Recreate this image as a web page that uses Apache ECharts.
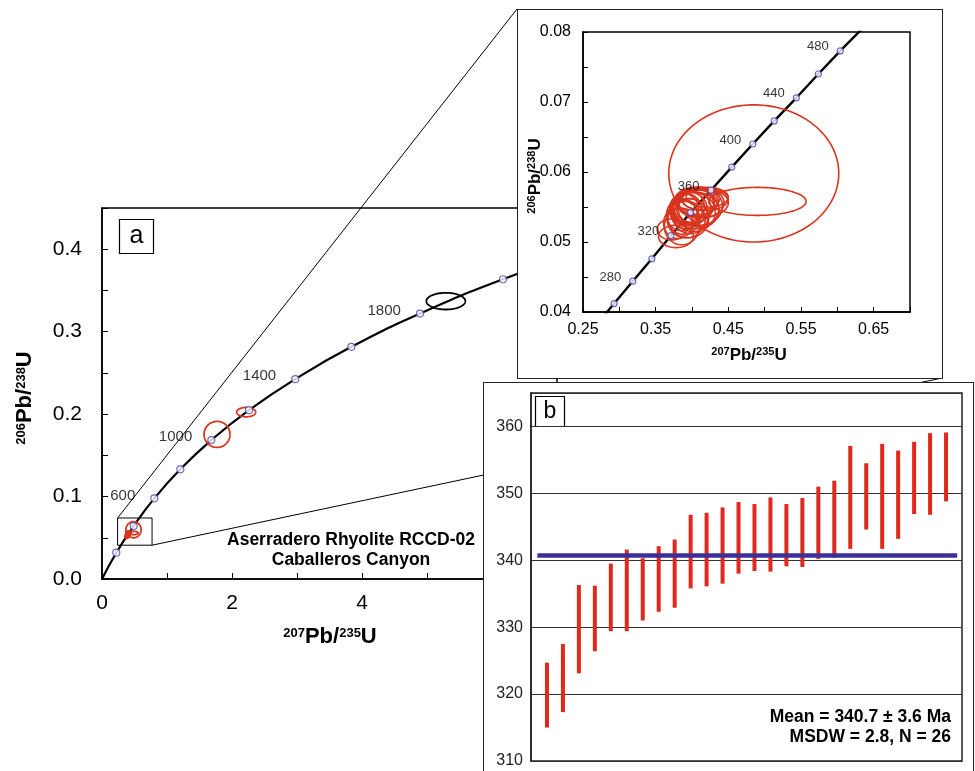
<!DOCTYPE html>
<html>
<head>
<meta charset="utf-8">
<script src="https://cdn.jsdelivr.net/npm/echarts@6/dist/echarts.min.js"></script>
<style>
html,body{margin:0;padding:0;overflow:hidden;background:#fff;}
#main{position:absolute;left:0;top:0;width:975px;height:771px;}
#inset{position:absolute;left:517px;top:9px;width:424px;height:368px;border:1px solid #222;background:#fff;}
#wm{position:absolute;left:483px;top:382px;width:489px;height:400px;border:1px solid #222;background:#fff;}
</style>
</head>
<body>
<div id="main"></div>
<div id="inset"></div>
<div id="wm"></div>
<script>
var FONT = 'Liberation Sans, Arial, Helvetica, sans-serif';

// 主图谐和线 (年龄 Ma, 207Pb/235U, 206Pb/238U) — 从图上读出
var mainAges = [0, 200, 400, 600, 800, 1000, 1200, 1400, 1600, 1800, 2000, 2200];
var mainX = [0, 0.22, 0.487, 0.805, 1.205, 1.682, 2.262, 2.974, 3.836, 4.892, 6.169, 7.73];
var mainY = [0, 0.0319, 0.0642, 0.0978, 0.133, 0.1685, 0.2048, 0.2424, 0.2816, 0.322, 0.3636, 0.4067];
var mainLabelAges = [600, 1000, 1400, 1800];

// 放大图谐和线
var insetAges = [250, 260, 280, 300, 320, 340, 360, 380, 400, 420, 440, 460, 480, 500];
var insetX = [0.2792, 0.2928, 0.3185, 0.3447, 0.3709, 0.398, 0.4261, 0.4547, 0.4837, 0.5132, 0.5436, 0.5739, 0.604, 0.6363];
var insetY = [0.0395, 0.0412, 0.0444, 0.0476, 0.0509, 0.0542, 0.0574, 0.0607, 0.0640, 0.0673, 0.0706, 0.0740, 0.0773, 0.0807];
var insetLabelAges = [280, 320, 360, 400, 440, 480];

// 误差椭圆 [cx, cy, rx, ry]
var clusterEll = [
  [0.378, 0.0508, 0.024, 0.0016], [0.372, 0.0518, 0.020, 0.0015], [0.386, 0.0522, 0.024, 0.0026],
  [0.381, 0.0527, 0.020, 0.0022], [0.392, 0.0532, 0.026, 0.0026], [0.395, 0.0534, 0.028, 0.0028],
  [0.388, 0.0535, 0.022, 0.0024], [0.398, 0.0537, 0.024, 0.0025], [0.386, 0.0539, 0.021, 0.0023],
  [0.402, 0.0543, 0.030, 0.0028], [0.392, 0.0544, 0.022, 0.0025], [0.405, 0.0545, 0.032, 0.0026],
  [0.397, 0.0547, 0.024, 0.0024], [0.389, 0.0547, 0.020, 0.0022], [0.409, 0.0548, 0.028, 0.0026],
  [0.400, 0.0549, 0.026, 0.0023], [0.395, 0.0550, 0.022, 0.0024], [0.410, 0.0551, 0.032, 0.0027],
  [0.402, 0.0553, 0.028, 0.0025], [0.412, 0.0556, 0.032, 0.0022], [0.405, 0.0557, 0.026, 0.0021],
  [0.416, 0.0556, 0.034, 0.0020], [0.408, 0.0558, 0.028, 0.0019], [0.418, 0.0561, 0.032, 0.0016],
  [0.412, 0.0562, 0.026, 0.0016], [0.421, 0.0564, 0.029, 0.0014]
];
var wideEll = [[0.485, 0.0598, 0.117, 0.0098], [0.49, 0.0558, 0.067, 0.0020]];
var oldRedEll = [[1.77, 0.1754, 0.20, 0.0158], [2.218, 0.2024, 0.146, 0.0057]];
var blackEll = [[5.29, 0.337, 0.30, 0.0101]];
var zoomBox = [[0.24, 0.074], [0.77, 0.041]];

// 加权平均图 (Ma)
var grainHigh = [324.7, 327.5, 336.3, 336.2, 339.5, 341.6, 340.3, 342.1, 343.1, 346.8, 347.1, 347.9, 348.7, 348.4, 349.4, 348.4, 349.3, 351.0, 351.9, 357.1, 354.5, 357.4, 356.4, 357.7, 359.0, 359.1];
var grainLow = [315.0, 317.3, 323.1, 326.4, 329.4, 329.4, 331.0, 332.3, 332.9, 335.8, 336.1, 336.5, 338.0, 338.4, 338.3, 339.1, 339.0, 340.2, 340.4, 341.7, 344.6, 341.7, 343.2, 346.9, 346.8, 348.8];
var meanAge = 340.7;
var meanLineX = [0.4, 26.7];

var RED = '#d8351f';
var MARK = '#4a44b4';

function pairs(xs, ys){
	var out = [];
	for (var i = 0; i < xs.length; i++) out.push([xs[i], ys[i]]);
	return out;
}

function ellipseRender(lineWidth){
	return function(params, api){
		var cx = api.value(0), cy = api.value(1), rx = api.value(2), ry = api.value(3);
		var pts = [];
		for (var k = 0; k <= 90; k++) {
			var a = k / 90 * Math.PI * 2;
			pts.push(api.coord([cx + rx * Math.cos(a), cy + ry * Math.sin(a)]));
		}
		return {type: 'polyline', shape: {points: pts}, style: {fill: null, stroke: api.visual('color'), lineWidth: lineWidth}};
	};
}

function ellSeries(data, color, lw, z){
	return {type: 'custom', data: data, clip: true, z: z, renderItem: ellipseRender(lw),
		itemStyle: {color: color}, encode: {x: 0, y: 1}, silent: true};
}

function markerData(ages, xs, ys, labelAges, from, to){
	var out = [];
	for (var i = 0; i < ages.length; i++) {
		if (ages[i] < from || ages[i] > to) continue;
		out.push({value: [xs[i], ys[i]], label: {show: labelAges.indexOf(ages[i]) >= 0, formatter: String(ages[i])}});
	}
	return out;
}

function titleRich(big, small, sup){
	return {
		b: {fontSize: big, fontWeight: 'bold', fontFamily: FONT, fill: '#000', verticalAlign: 'bottom'},
		s: {fontSize: small, fontWeight: 'bold', fontFamily: FONT, fill: '#000', verticalAlign: 'bottom', padding: [0, 0, sup, 0]}
	};
}

/*===================== 主图 a =====================*/
var mainChart = echarts.init(document.getElementById('main'));
var axisBlack = {color: '#000', width: 1.5};
mainChart.setOption({
	animation: false,
	grid: {left: 102, top: 208, width: 455, height: 371, show: true, borderColor: '#000', borderWidth: 1.5},
	xAxis: {
		type: 'value', min: 0, max: 7, interval: 1,
		axisLine: {lineStyle: axisBlack},
		axisTick: {inside: true, length: 6, lineStyle: {color: '#000'}},
		axisLabel: {margin: 14, fontSize: 21, color: '#000', fontFamily: FONT,
			formatter: function(v){ return v % 2 === 0 ? String(v) : ''; }},
		splitLine: {show: false}
	},
	yAxis: {
		type: 'value', min: 0, max: 0.45, interval: 0.05,
		axisLine: {lineStyle: axisBlack},
		axisTick: {inside: true, length: 6, lineStyle: {color: '#000'}},
		axisLabel: {margin: 20, fontSize: 21, color: '#000', fontFamily: FONT,
			formatter: function(v){ var k = Math.round(v * 100); return k % 10 === 0 ? (k / 100).toFixed(1) : ''; }},
		splitLine: {show: false}
	},
	series: [
		{type: 'line', data: pairs(mainX, mainY), smooth: true, showSymbol: false, silent: true,
			lineStyle: {color: '#000', width: 2.2}, z: 2},
		ellSeries(clusterEll.concat(wideEll).concat(oldRedEll), RED, 1.8, 3),
		ellSeries(blackEll, '#000', 1.8, 3),
		{type: 'scatter', data: markerData(mainAges, mainX, mainY, mainLabelAges, 200, 2000), z: 4,
			symbol: 'circle', symbolSize: 7, itemStyle: {color: '#fff', borderColor: MARK, borderWidth: 1.2},
			label: {position: 'left', distance: 15, offset: [0, -3], fontSize: 15, color: '#000', fontFamily: FONT}}
	]
});

var boxTL = mainChart.convertToPixel({gridIndex: 0}, zoomBox[0]);
var boxBR = mainChart.convertToPixel({gridIndex: 0}, zoomBox[1]);
mainChart.setOption({
	graphic: [
		{type: 'rect', shape: {x: boxTL[0], y: boxTL[1], width: boxBR[0] - boxTL[0], height: boxBR[1] - boxTL[1]},
			style: {fill: null, stroke: '#000', lineWidth: 1}, z: 10},
		{type: 'line', shape: {x1: boxTL[0], y1: boxTL[1], x2: 517, y2: 9}, style: {stroke: '#000', lineWidth: 1}, z: 10},
		{type: 'line', shape: {x1: boxBR[0], y1: boxBR[1], x2: 942, y2: 378}, style: {stroke: '#000', lineWidth: 1}, z: 10},
		{type: 'rect', shape: {x: 119.5, y: 219.5, width: 34, height: 34}, style: {fill: '#fff', stroke: '#000', lineWidth: 1.2}, z: 10},
		{type: 'text', x: 136.5, y: 236, z: 11, style: {text: 'a', fontSize: 25, fontFamily: FONT, fill: '#000', align: 'center', verticalAlign: 'middle'}},
		{type: 'text', x: 351, y: 540, z: 11, style: {text: 'Aserradero Rhyolite RCCD-02', fontSize: 17.5, fontWeight: 'bold', fontFamily: FONT, fill: '#000', align: 'center', verticalAlign: 'middle'}},
		{type: 'text', x: 351, y: 560, z: 11, style: {text: 'Caballeros Canyon', fontSize: 17.5, fontWeight: 'bold', fontFamily: FONT, fill: '#000', align: 'center', verticalAlign: 'middle'}},
		{type: 'text', x: 330, y: 637, z: 11, style: {text: '{s|207}{b|Pb/}{s|235}{b|U}', rich: titleRich(22, 13, 8), align: 'center', verticalAlign: 'middle'}},
		{type: 'text', x: 25, y: 398, rotation: Math.PI / 2, z: 11, style: {text: '{s|206}{b|Pb/}{s|238}{b|U}', rich: titleRich(22, 13, 8), align: 'center', verticalAlign: 'middle'}}
	]
});

/*===================== 放大图 =====================*/
var insetChart = echarts.init(document.getElementById('inset'));
insetChart.setOption({
	animation: false,
	grid: {left: 65, top: 22, width: 327, height: 280, show: true, borderColor: '#000', borderWidth: 1.5},
	xAxis: {
		type: 'value', min: 0.25, max: 0.70, interval: 0.05,
		axisLine: {lineStyle: axisBlack},
		axisTick: {inside: true, length: 5, lineStyle: {color: '#000'}},
		axisLabel: {margin: 10, fontSize: 16, color: '#000', fontFamily: FONT,
			formatter: function(v){ var k = Math.round(v * 100); return k % 10 === 5 ? (k / 100).toFixed(2) : ''; }},
		splitLine: {show: false}
	},
	yAxis: {
		type: 'value', min: 0.04, max: 0.08, interval: 0.005,
		axisLine: {lineStyle: axisBlack},
		axisTick: {inside: true, length: 5, lineStyle: {color: '#000'}},
		axisLabel: {margin: 12, fontSize: 16, color: '#000', fontFamily: FONT,
			formatter: function(v){ var k = Math.round(v * 1000); return k % 10 === 0 ? (k / 1000).toFixed(2) : ''; }},
		splitLine: {show: false}
	},
	series: [
		{type: 'line', data: pairs(insetX, insetY), showSymbol: false, silent: true,
			lineStyle: {color: '#000', width: 2.4}, z: 2},
		ellSeries(clusterEll.concat(wideEll), RED, 1.6, 3),
		{type: 'scatter', data: markerData(insetAges, insetX, insetY, insetLabelAges, 260, 480), z: 4,
			symbol: 'circle', symbolSize: 6, itemStyle: {color: '#fff', borderColor: MARK, borderWidth: 1.2},
			label: {position: 'left', distance: 8, offset: [0, -4], fontSize: 13, color: '#000', fontFamily: FONT}}
	],
	graphic: [
		{type: 'text', x: 231, y: 345, style: {text: '{s|207}{b|Pb/}{s|235}{b|U}', rich: titleRich(17, 11, 6), align: 'center', verticalAlign: 'middle'}},
		{type: 'text', x: 17, y: 166, rotation: Math.PI / 2, style: {text: '{s|206}{b|Pb/}{s|238}{b|U}', rich: titleRich(17, 11, 6), align: 'center', verticalAlign: 'middle'}}
	]
});

/*===================== 加权平均图 b =====================*/
var wmChart = echarts.init(document.getElementById('wm'));
var barData = [];
for (var i = 0; i < grainHigh.length; i++) barData.push([i + 1, grainLow[i], grainHigh[i]]);
wmChart.setOption({
	animation: false,
	grid: {left: 47, top: 10, width: 431, height: 368, show: true, borderColor: '#222', borderWidth: 1.5},
	xAxis: {type: 'value', min: 0, max: 27, show: false},
	yAxis: {
		type: 'value', min: 310, max: 365, interval: 10,
		axisLine: {lineStyle: {color: '#222', width: 1.5}},
		axisTick: {show: false},
		axisLabel: {margin: 8, fontSize: 16, color: '#222', fontFamily: FONT, showMaxLabel: false},
		splitLine: {show: true, lineStyle: {color: '#333', width: 1.2}}
	},
	series: [
		{type: 'custom', data: barData, z: 2, encode: {x: 0, y: [1, 2]},
			renderItem: function(params, api){
				var top = api.coord([api.value(0), api.value(2)]);
				var bot = api.coord([api.value(0), api.value(1)]);
				return {type: 'rect', shape: {x: top[0] - 2, y: top[1], width: 4, height: bot[1] - top[1]}, style: {fill: '#e0291c'}};
			}},
		{type: 'line', data: [[meanLineX[0], meanAge], [meanLineX[1], meanAge]], showSymbol: false, z: 3,
			lineStyle: {color: '#3d2f99', width: 4.5}}
	],
	graphic: [
		{type: 'rect', shape: {x: 51.5, y: 13.5, width: 29, height: 30}, style: {fill: '#fff', stroke: '#000', lineWidth: 1.2}},
		{type: 'text', x: 66, y: 29, style: {text: 'b', fontSize: 23, fontFamily: FONT, fill: '#000', align: 'center', verticalAlign: 'middle'}},
		{type: 'text', x: 467, y: 334, style: {text: 'Mean = 340.7 \u00b1 3.6 Ma', fontSize: 17.5, fontWeight: 'bold', fontFamily: FONT, fill: '#000', align: 'right', verticalAlign: 'middle'}},
		{type: 'text', x: 467, y: 354, style: {text: 'MSDW = 2.8, N = 26', fontSize: 17.5, fontWeight: 'bold', fontFamily: FONT, fill: '#000', align: 'right', verticalAlign: 'middle'}}
	]
});
</script>
</body>
</html>
